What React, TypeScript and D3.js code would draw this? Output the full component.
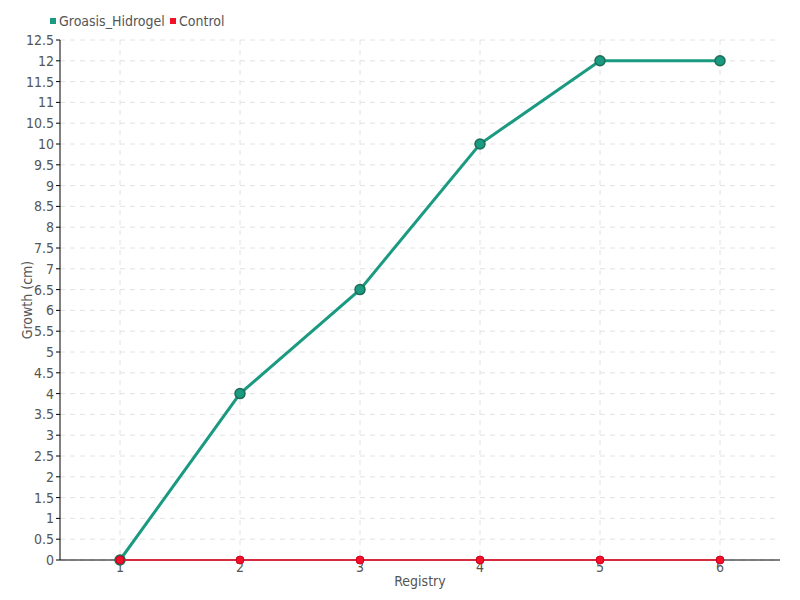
import React from "react";
import * as d3 from "d3";

const categories = ["1", "2", "3", "4", "5", "6"];
const groasis = [0, 4, 6.5, 10, 12, 12];
const control = [0, 0, 0, 0, 0, 0];
const yTicks = d3.range(0, 12.51, 0.5);
const seriesNames = ["Groasis_Hidrogel", "Control"];

const W = 800, H = 600;
const M = { left: 60, right: 20, top: 40, bottom: 40 };
const FONT = "'DejaVu Sans Condensed', 'Liberation Sans Narrow', sans-serif";

export default function App() {
  const x = d3.scaleBand().domain(categories).range([M.left, W - M.right]);
  const y = d3.scaleLinear().domain([0, 12.5]).range([H - M.bottom, M.top]);
  const cx = (c: string) => (x(c) as number) + x.bandwidth() / 2;
  const line = d3.line<number>().x((_, i) => cx(categories[i])).y((d) => y(d));
  const green = "#1a9a80";
  const red = "#f5102a";
  return (
    <svg width={W} height={H} style={{ position: "absolute", left: 0, top: 0, fontFamily: FONT }}>
      <rect width={W} height={H} fill="#fff" />
      {yTicks.map((t) => (
        <line key={"gy" + t} x1={M.left} x2={W - M.right} y1={y(t)} y2={y(t)} stroke="#e2e2e2" strokeDasharray="5,5" />
      ))}
      {categories.map((c) => (
        <line key={"gx" + c} x1={cx(c)} x2={cx(c)} y1={M.top} y2={H - M.bottom} stroke="#e2e2e2" strokeDasharray="5,5" />
      ))}
      <line x1={M.left} x2={M.left} y1={M.top} y2={H - M.bottom} stroke="#000" />
      {yTicks.map((t) => (
        <g key={"yt" + t}>
          <line x1={M.left - 4} x2={M.left} y1={y(t)} y2={y(t)} stroke="#000" />
          <text x={M.left - 6} y={y(t)} dy="0.35em" textAnchor="end" fontSize={14} fill="#555">
            {String(t)}
          </text>
        </g>
      ))}
      <line x1={M.left} x2={W - M.right} y1={H - M.bottom} y2={H - M.bottom} stroke="#000" />
      {categories.map((c) => (
        <text key={"xt" + c} x={cx(c)} y={H - M.bottom + 12} textAnchor="middle" fontSize={14} fill="#555">
          {c}
        </text>
      ))}
      <text x={(M.left + W - M.right) / 2} y={H - 14} textAnchor="middle" fontSize={14} fill="#555">
        Registry
      </text>
      <text transform={`translate(32,${(M.top + H - M.bottom) / 2}) rotate(-90)`} textAnchor="middle" fontSize={14} fill="#555">
        Growth (cm)
      </text>
      <path d={line(groasis) || ""} fill="none" stroke={green} strokeWidth={3} />
      {groasis.map((v, i) => (
        <circle key={"g" + i} cx={cx(categories[i])} cy={y(v)} r={5} fill={green} stroke="#1f6b55" strokeWidth={1.5} />
      ))}
      <path d={line(control) || ""} fill="none" stroke={red} strokeWidth={1.5} />
      {control.map((v, i) => (
        <circle key={"c" + i} cx={cx(categories[i])} cy={y(v)} r={4} fill={red} stroke="#d00020" strokeWidth={1} />
      ))}
      <rect x={50} y={18} width={6} height={6} fill={green} />
      <text x={59} y={21} dy="0.35em" fontSize={14} fill="#555">{seriesNames[0]}</text>
      <rect x={170} y={18} width={6} height={6} fill={red} />
      <text x={179} y={21} dy="0.35em" fontSize={14} fill="#555">{seriesNames[1]}</text>
    </svg>
  );
}
